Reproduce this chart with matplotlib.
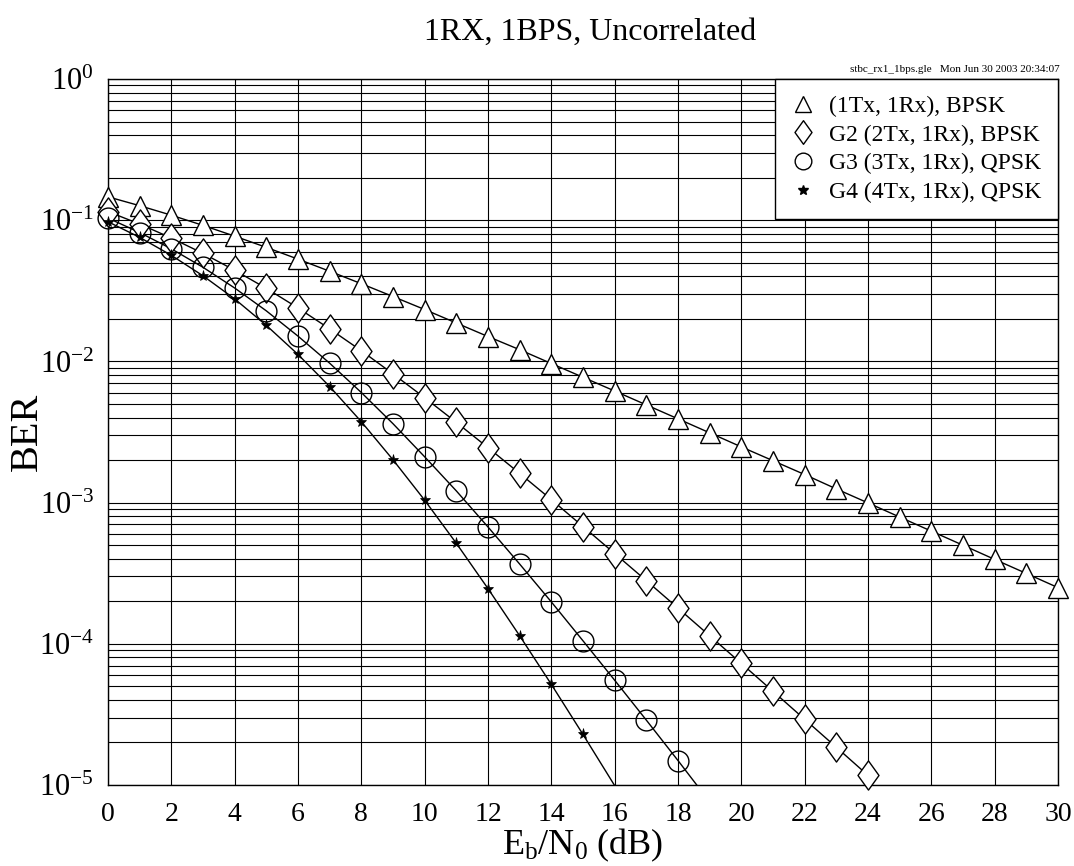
import numpy as np
import matplotlib
matplotlib.use("Agg")
from matplotlib import pyplot as plt
from matplotlib.path import Path
from matplotlib.ticker import LogLocator, MultipleLocator, LogFormatterMathtext

plt.rcParams['font.family'] = ['Liberation Serif', 'DejaVu Serif']
plt.rcParams['mathtext.fontset'] = 'custom'
plt.rcParams['mathtext.rm'] = 'Liberation Serif'
plt.rcParams['mathtext.it'] = 'Liberation Serif:italic'

# Eb/N0 (dB) and BER
snr_1tx = list(range(0, 31))
ber_1tx = [0.1464, 0.1267, 0.1085, 0.0919, 0.0771, 0.0642, 0.0530, 0.0435,
           0.0355, 0.0288, 0.0233, 0.0187, 0.0150, 0.0121, 0.00966, 0.00772,
           0.00617, 0.00492, 0.00392, 0.00312, 0.00248, 0.00198, 0.00158,
           0.00125, 0.000995, 0.00079, 0.000628, 0.000499, 0.000396,
           0.000315, 0.00025]

snr_g2 = list(range(0, 25))
ber_g2 = [0.1151, 0.0939, 0.0748, 0.0582, 0.0442, 0.0329, 0.0239, 0.0170,
          0.0119, 0.00816, 0.00553, 0.00370, 0.00245, 0.00161, 0.00105,
          0.000677, 0.000436, 0.000280, 0.000179, 0.000114, 7.26e-05,
          4.61e-05, 2.92e-05, 1.85e-05, 1.17e-05]

snr_g3 = list(range(0, 20))
ber_g3 = [0.1035, 0.0818, 0.0627, 0.0464, 0.0331, 0.0228, 0.0151, 0.00971,
          0.00602, 0.00362, 0.00211, 0.00121, 0.000672, 0.000367, 0.000198,
          0.000105, 5.52e-05, 2.88e-05, 1.49e-05, 7.6e-06]

snr_g4 = list(range(0, 17))
ber_g4 = [0.0975, 0.0756, 0.0564, 0.0404, 0.0277, 0.0180, 0.0112, 0.00664,
          0.00374, 0.00201, 0.00104, 0.000515, 0.000246, 0.000114, 5.16e-05,
          2.28e-05, 9.9e-06]

labels = ['(1Tx, 1Rx), BPSK', 'G2 (2Tx, 1Rx), BPSK',
          'G3 (3Tx, 1Rx), QPSK', 'G4 (4Tx, 1Rx), QPSK']

# diamond a bit wider than matplotlib's thin diamond
diamond = Path([(0, 1), (0.72, 0), (0, -1), (-0.72, 0), (0, 1)],
               [Path.MOVETO, Path.LINETO, Path.LINETO, Path.LINETO, Path.CLOSEPOLY])

fig = plt.figure(figsize=(10.74, 8.66), dpi=100)
ax = fig.add_axes([108/1074, 81/866, 950/1074, 706/866])

styles = [
    dict(marker='^', ms=14, mfc='white', mec='black', mew=1.0),
    dict(marker=diamond, ms=21, mfc='white', mec='black', mew=1.0),
    dict(marker='o', ms=15, mfc='none', mec='black', mew=1.0),
    dict(marker='*', ms=8, mfc='black', mec='black', mew=0.5),
]
series = [(snr_1tx, ber_1tx), (snr_g2, ber_g2), (snr_g3, ber_g3), (snr_g4, ber_g4)]

for (x, y), st in zip(series, styles):
    x = np.array(x)
    y = np.array(y)
    ax.plot(x, y, color='black', lw=1.0, zorder=3)
    keep = y >= 1e-5
    ax.plot(x[keep], y[keep], ls='none', clip_on=False, zorder=4, **st)

ax.set_yscale('log')
ax.set_xlim(0, 30)
ax.set_ylim(1e-5, 1)
ax.xaxis.set_major_locator(MultipleLocator(2))
ax.yaxis.set_major_locator(LogLocator(base=10))
ax.yaxis.set_minor_locator(LogLocator(base=10, subs=np.arange(2, 10)))
ax.yaxis.set_major_formatter(LogFormatterMathtext())
ax.yaxis.set_minor_formatter(plt.NullFormatter())
ax.grid(True, which='major', axis='x', color='black', lw=0.8)
ax.grid(True, which='both', axis='y', color='black', lw=0.8)
ax.tick_params(which='both', length=0)
ax.tick_params(axis='x', labelsize=20, pad=12)
ax.tick_params(axis='y', labelsize=22, pad=10)
for sp in ax.spines.values():
    sp.set_linewidth(1.0)

ax.set_ylabel('BER', fontsize=29)
ax.yaxis.set_label_coords(-62/950, 0.5)
ax.set_xlabel(r'E$_\mathrm{b}$/N$_0$ (dB)', fontsize=26, labelpad=0)

fig.text(590/1074, 1 - 32/866, '1RX, 1BPS, Uncorrelated', fontsize=23,
         ha='center', va='center')
fig.text(1060/1074, 1 - 69/866, 'stbc_rx1_1bps.gle   Mon Jun 30 2003 20:34:07',
         fontsize=8, ha='right', va='center')

leg = ax.legend(handles=[
    plt.Line2D([], [], ls='none', marker='^', ms=12, mfc='white', mec='black'),
    plt.Line2D([], [], ls='none', marker=diamond, ms=17, mfc='white', mec='black'),
    plt.Line2D([], [], ls='none', marker='o', ms=12, mfc='none', mec='black'),
    plt.Line2D([], [], ls='none', marker='*', ms=7, mfc='black', mec='black')],
    labels=labels, loc='upper right', bbox_to_anchor=(1.0, 1.0),
    borderaxespad=0.0, fontsize=17, frameon=True, fancybox=False,
    handlelength=1.0, handletextpad=0.6, labelspacing=0.3, borderpad=0.7)
leg.get_frame().set_edgecolor('black')
leg.get_frame().set_linewidth(1.0)
leg.get_frame().set_alpha(1.0)

fig.savefig('out.png', dpi=100, facecolor='white')
